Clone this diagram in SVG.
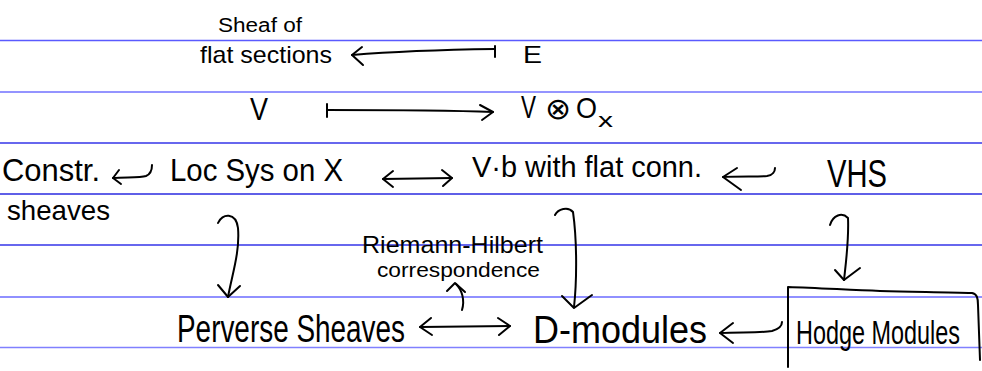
<svg xmlns="http://www.w3.org/2000/svg" width="982" height="371" viewBox="0 0 982 371">
<style>
.rule{stroke-width:1.6;fill:none}
.t{font-family:"Liberation Sans Narrow","Liberation Sans",Arial,sans-serif;fill:#000}
.ink{stroke:#000;stroke-width:2;fill:none;stroke-linecap:round;stroke-linejoin:round}
</style>
<rect width="982" height="371" fill="#fff"/>
<g id="ruling">
<line class="rule" x1="0" y1="40.5" x2="982" y2="40.5" stroke="#5a5aff"/>
<line class="rule" x1="0" y1="92" x2="982" y2="92" stroke="#7070ff"/>
<line class="rule" x1="0" y1="143" x2="982" y2="143" stroke="#3535e8"/>
<line class="rule" x1="0" y1="194" x2="982" y2="194" stroke="#2a2ae0"/>
<line class="rule" x1="0" y1="245" x2="982" y2="245" stroke="#3535e8"/>
<line class="rule" x1="0" y1="297" x2="982" y2="297" stroke="#6b6bff"/>
<line class="rule" x1="0" y1="347.5" x2="982" y2="347.5" stroke="#8080ff"/>
</g>
<g id="node-sheaf-flat">
<text class="t" x="218" y="32" font-size="20" textLength="84" lengthAdjust="spacingAndGlyphs">Sheaf of</text>
<text class="t" x="200" y="63" font-size="24" textLength="132" lengthAdjust="spacingAndGlyphs">flat sections</text>
</g>
<g id="node-E"><text class="t" x="523" y="63" font-size="24" textLength="19" lengthAdjust="spacingAndGlyphs">E</text></g>
<g id="node-V"><text class="t" x="250" y="120" font-size="32" textLength="18" lengthAdjust="spacingAndGlyphs">V</text></g>
<g id="node-VOx">
<text class="t" x="521" y="118" font-size="32" textLength="15" lengthAdjust="spacingAndGlyphs">V</text>
<text class="t" x="545" y="119" font-size="30" textLength="26" lengthAdjust="spacingAndGlyphs">⊗</text>
<text class="t" x="576" y="118" font-size="30" textLength="21" lengthAdjust="spacingAndGlyphs">O</text>
<text class="t" x="598" y="127" font-size="20" textLength="15" lengthAdjust="spacingAndGlyphs">x</text>
</g>
<g id="node-constr">
<text class="t" x="2" y="181" font-size="32" textLength="98" lengthAdjust="spacingAndGlyphs">Constr.</text>
<text class="t" x="7" y="220" font-size="28" textLength="103" lengthAdjust="spacingAndGlyphs">sheaves</text>
</g>
<g id="node-locsys"><text class="t" x="170" y="181" font-size="32" textLength="173" lengthAdjust="spacingAndGlyphs">Loc Sys on X</text></g>
<g id="node-vb"><text class="t" x="472" y="177" font-size="30" textLength="230" lengthAdjust="spacingAndGlyphs">V·b with flat conn.</text></g>
<g id="node-vhs"><text class="t" x="827" y="187" font-size="38" textLength="60" lengthAdjust="spacingAndGlyphs">VHS</text></g>
<g id="node-perverse"><text class="t" x="177" y="342" font-size="38" textLength="228" lengthAdjust="spacingAndGlyphs">Perverse Sheaves</text></g>
<g id="node-dmod"><text class="t" x="533" y="343" font-size="38" textLength="174" lengthAdjust="spacingAndGlyphs">D-modules</text></g>
<g id="node-hodge">
<text class="t" x="796" y="344" font-size="34" textLength="164" lengthAdjust="spacingAndGlyphs">Hodge Modules</text>
<path class="ink" d="M788,367 L788,287 C820,288 850,290 880,291 C920,292 950,292 972,293 C977,294 978,298 978,305 L980,360"/>
</g>
<g id="label-rh">
<text class="t" x="362" y="253" font-size="24" textLength="181" lengthAdjust="spacingAndGlyphs">Riemann-Hilbert</text>
<text class="t" x="377" y="277" font-size="20" textLength="163" lengthAdjust="spacingAndGlyphs">correspondence</text>
</g>
<g id="connectors">
<path class="ink" d="M495,49 C460,49.5 400,51 352,55"/>
<path class="ink" d="M495,46 L495,57"/>
<path class="ink" d="M362,47 L352,55 L363,65"/>
<path class="ink" d="M327,110 C380,110 440,110 493,112"/>
<path class="ink" d="M327,104 L327,117"/>
<path class="ink" d="M480,105 L493,112 L482,120"/>
<path class="ink" d="M113,178 C125,177 140,178 146,176 C151,174 152,169 152,165"/>
<path class="ink" d="M119,170 L113,178 L121,184"/>
<path class="ink" d="M383,179 L452,178"/>
<path class="ink" d="M393,171 L383,179 L393,187"/>
<path class="ink" d="M442,170 L452,178 L443,186"/>
<path class="ink" d="M723,177 C740,176 760,177 767,176 C773,175 775,171 775,168"/>
<path class="ink" d="M737,168 L723,177 L741,190"/>
<path class="ink" d="M218,223 C222,213 236,212 238,228 C240,252 232,275 228,297"/>
<path class="ink" d="M218,285 L228,297 L240,286"/>
<path class="ink" d="M555,215 C558,209 568,206 573,212 C577,240 577,280 574,307"/>
<path class="ink" d="M562,296 L574,308 L592,295"/>
<path class="ink" d="M830,225 C833,215 842,212 848,218 C849,240 846,262 844,280"/>
<path class="ink" d="M835,270 L844,280 L860,268"/>
<path class="ink" d="M420,327 L510,326"/>
<path class="ink" d="M431,318 L420,327 L432,335"/>
<path class="ink" d="M498,318 L510,326 L499,335"/>
<path class="ink" d="M462,310 C465,300 462,290 456,284"/>
<path class="ink" d="M447,291 L455,283 L465,292"/>
<path class="ink" d="M720,333 C740,332 760,333 772,331 C779,329 782,326 782,322"/>
<path class="ink" d="M733,323 L720,333 L733,343"/>
</g>
</svg>
